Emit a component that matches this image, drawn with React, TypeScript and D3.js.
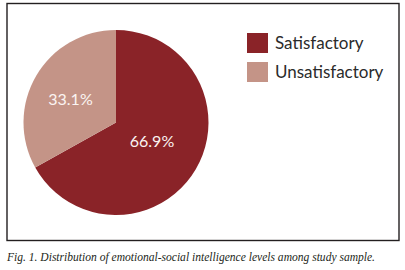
import React from "react";
import * as d3 from "d3";

const categories = ["Satisfactory", "Unsatisfactory"];
const values = [66.9, 33.1];
const labels = ["66.9%", "33.1%"];
const colors = ["#8A2328", "#C49487"];
const caption = "Fig. 1. Distribution of emotional-social intelligence levels among study sample.";

export default function App() {
  const W = 405, H = 270;
  const cx = 116, cy = 122.5, r = 92.5;
  const pie = d3.pie<number>().sort(null).value((d) => d)(values);
  const arc = d3.arc<d3.PieArcDatum<number>>().innerRadius(0).outerRadius(r);
  const labelPos = [
    [152, 146.5],
    [70.5, 105],
  ];
  return (
    <svg width={W} height={H} style={{ position: "absolute", left: 0, top: 0, background: "#fff" }}>
      <rect x={7} y={3.5} width={392} height={237} fill="#fff" stroke="#231f20" strokeWidth={1.4} />
      <g transform={`translate(${cx},${cy})`}>
        {pie.map((p, i) => (
          <path key={i} d={arc(p) || ""} fill={colors[i]} />
        ))}
      </g>
      {pie.map((p, i) => (
        <text
          key={"l" + i}
          x={labelPos[i][0]}
          y={labelPos[i][1]}
          textAnchor="middle"
          fontFamily="Lato, 'Open Sans', sans-serif"
          fontSize={16}
          fill="#fbf4f2"
        >
          {labels[i]}
        </text>
      ))}
      {categories.map((c, i) => (
        <g key={"g" + i}>
          <rect x={247} y={33 + i * 29} width={21} height={20} fill={colors[i]} />
          <text
            x={275}
            y={48.5 + i * 29}
            fontFamily="Lato, 'Open Sans', sans-serif"
            fontSize={17}
            fill="#2b2b2b"
          >
            {c}
          </text>
        </g>
      ))}
      <text
        x={7}
        y={260.5}
        fontFamily="'Liberation Serif', serif"
        fontStyle="italic"
        fontSize={12.2}
        fill="#231f20"
        textLength={368}
        lengthAdjust="spacingAndGlyphs"
      >
        {caption}
      </text>
    </svg>
  );
}
